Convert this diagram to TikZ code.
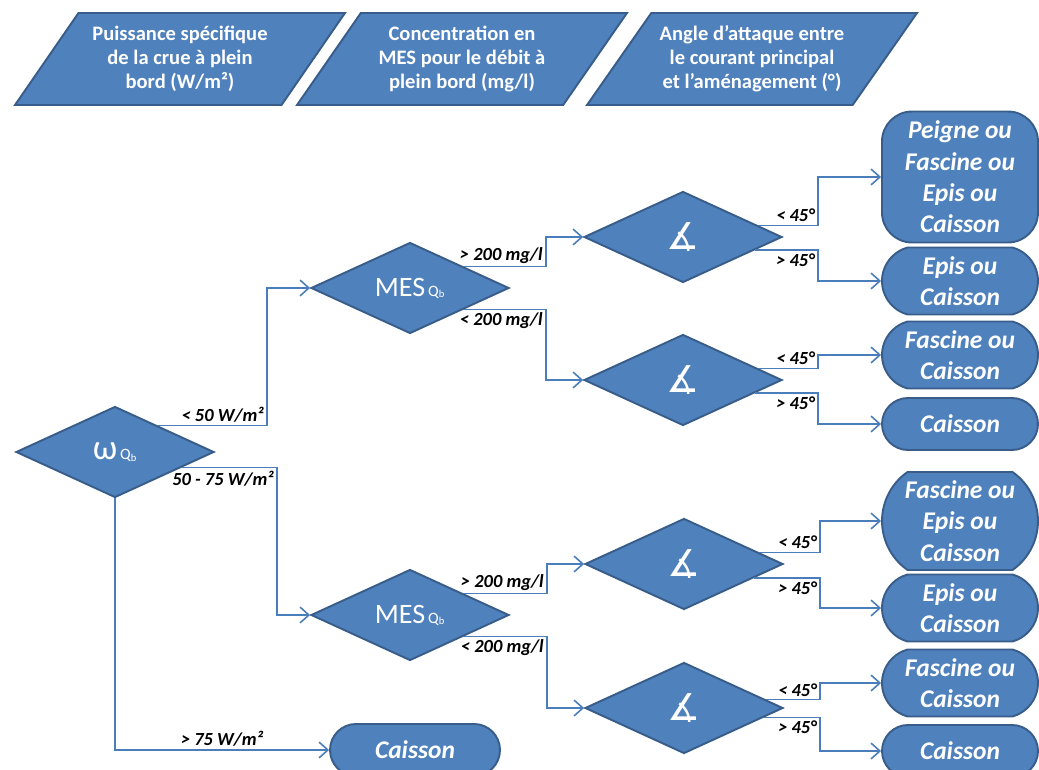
\documentclass[tikz,border=0pt]{standalone}
\usepackage{fontspec}
\setmainfont{Carlito}
\newfontfamily\symfont{DejaVu Sans}
\usepackage{tikz}
\usetikzlibrary{calc,positioning,shapes.geometric,shapes.misc,arrows.meta}
\definecolor{boxfill}{HTML}{4F81BD}
\definecolor{boxline}{HTML}{385D8A}
\definecolor{connline}{HTML}{4A7EBB}
\newcommand{\qb}{{\fontsize{9}{10}\selectfont Q\textsubscript{b}}}
\newcommand{\angl}{{\symfont\fontsize{21}{22}\selectfont ∡}}

\begin{document}
\begin{tikzpicture}[x=0.02cm, y=-0.02cm,
    entree/.style={trapezium, trapezium left angle=46, trapezium right angle=134,
        trapezium stretches body, draw=boxline, line width=1.1pt, fill=boxfill,
        text=white, font=\bfseries\fontsize{11.7}{13.7}\selectfont, align=center,
        minimum width=6.6cm, minimum height=1.84cm, inner sep=0pt},
    choix/.style={diamond, aspect=2.2, draw=boxline, line width=1.1pt, fill=boxfill,
        text=white, minimum width=3.96cm, minimum height=1.82cm, inner sep=0pt},
    fin/.style={rounded rectangle, draw=boxline, line width=1.1pt, fill=boxfill,
        text=white, font=\bfseries\itshape\fontsize{14.5}{17.8}\selectfont, align=center,
        minimum width=3.12cm, inner sep=0pt},
    lien/.style={-{Straight Barb[length=5pt,width=9pt]}, draw=connline, line width=0.9pt},
    seuil/.style={font=\bfseries\itshape\fontsize{10.5}{12}\selectfont, inner sep=1.5pt}]
                \useasboundingbox (0,0) rectangle (1039,770);
                \node[entree] (p1) at (180,59) {Puissance spécifique\\de la crue à plein\\bord (W/m²)};
                \node[entree] (p2) at (462,59) {Concentration en\\MES pour le débit à\\plein bord (mg/l)};
                \node[entree] (p3) at (752,59) {Angle d’attaque entre\\le courant principal\\et l’aménagement (°)};
                \node[choix] (w) at (115,452) {{\fontsize{20}{22}\selectfont ω}\,\qb};
                \node[choix] (m1) at (410,288) {{\fontsize{16}{18}\selectfont MES}\,\qb};
                \node[choix] (m2) at (410,615) {{\fontsize{16}{18}\selectfont MES}\,\qb};
                \node[choix] (a1) at (683,237) {\angl};
                \node[choix] (a2) at (683,380) {\angl};
                \node[choix] (a3) at (684,564) {\angl};
                \node[choix] (a4) at (684,708) {\angl};
                \node[fin, rectangle, rounded corners=0.6cm, minimum height=2.62cm] (r1) at (960,177) {Peigne ou\\Fascine ou\\Epis ou\\Caisson};
                \node[fin, minimum height=1.34cm, rounded rectangle arc length=150] (r2) at (960,281) {Epis ou\\Caisson};
                \node[fin, minimum height=1.34cm, rounded rectangle arc length=150] (r3) at (960,355) {Fascine ou\\Caisson};
                \node[fin, minimum height=1.04cm] (r4) at (960,424) {Caisson};
                \node[fin, minimum height=1.96cm, rounded rectangle arc length=110] (r5) at (960,521) {Fascine ou\\Epis ou\\Caisson};
                \node[fin, minimum height=1.34cm, rounded rectangle arc length=150] (r6) at (960,608) {Epis ou\\Caisson};
                \node[fin, minimum height=1.34cm, rounded rectangle arc length=150] (r7) at (960,683) {Fascine ou\\Caisson};
                \node[fin, minimum height=1.04cm] (r8) at (960,751) {Caisson};
                \node[fin, minimum height=1.04cm, minimum width=3.4cm] (r0) at (415,750) {Caisson};
                \draw[lien] ($(w.east)!0.57!(w.north)$) -| node[seuil, pos=0.5, above left] {< 50 W/m²} ($(m1.west)+(-43,0)$) -- (m1.west);
                \draw[lien] ($(w.east)!0.33!(w.south)$) -| node[seuil, pos=0.5, below left] {50 - 75 W/m²} ($(m2.west)+(-33,0)$) -- (m2.west);
                \draw[lien] (w.south) |- node[seuil, pos=0.75, above] {> 75 W/m²} (r0.west);
                \draw[lien] ($(m1.east)!0.46!(m1.north)$) -| node[seuil, pos=0.5, above left] {> 200 mg/l} ($(a1.west)+(-37,0)$) -- (a1.west);
                \draw[lien] ($(m1.east)!0.46!(m1.south)$) -| node[seuil, pos=0.5, below left] {< 200 mg/l} ($(a2.west)+(-37,0)$) -- (a2.west);
                \draw[lien] ($(m2.east)!0.46!(m2.north)$) -| node[seuil, pos=0.5, above left] {> 200 mg/l} ($(a3.west)+(-37,0)$) -- (a3.west);
                \draw[lien] ($(m2.east)!0.46!(m2.south)$) -| node[seuil, pos=0.5, below left] {< 200 mg/l} ($(a4.west)+(-37,0)$) -- (a4.west);
                \draw[lien] ($(a1.east)!0.25!(a1.north)$) -| node[seuil, pos=0.5, above left] {< 45°} ($(r1.west)+(-63,0)$) -- (r1.west);
                \draw[lien] ($(a1.east)!0.28!(a1.south)$) -| node[seuil, pos=0.5, below left] {> 45°} ($(r2.west)+(-63,0)$) -- (r2.west);
                \draw[lien] ($(a2.east)!0.25!(a2.north)$) -| node[seuil, pos=0.5, above left] {< 45°} ($(r3.west)+(-63,0)$) -- (r3.west);
                \draw[lien] ($(a2.east)!0.28!(a2.south)$) -| node[seuil, pos=0.5, below left] {> 45°} ($(r4.west)+(-63,0)$) -- (r4.west);
                \draw[lien] ($(a3.east)!0.25!(a3.north)$) -| node[seuil, pos=0.5, above left] {< 45°} ($(r5.west)+(-61,0)$) -- (r5.west);
                \draw[lien] ($(a3.east)!0.3!(a3.south)$) -| node[seuil, pos=0.5, below left] {> 45°} ($(r6.west)+(-61,0)$) -- (r6.west);
                \draw[lien] ($(a4.east)!0.18!(a4.north)$) -| node[seuil, pos=0.5, above left] {< 45°} ($(r7.west)+(-61,0)$) -- (r7.west);
                \draw[lien] ($(a4.east)!0.2!(a4.south)$) -| node[seuil, pos=0.5, below left] {> 45°} ($(r8.west)+(-61,0)$) -- (r8.west);
\end{tikzpicture}
\end{document}
